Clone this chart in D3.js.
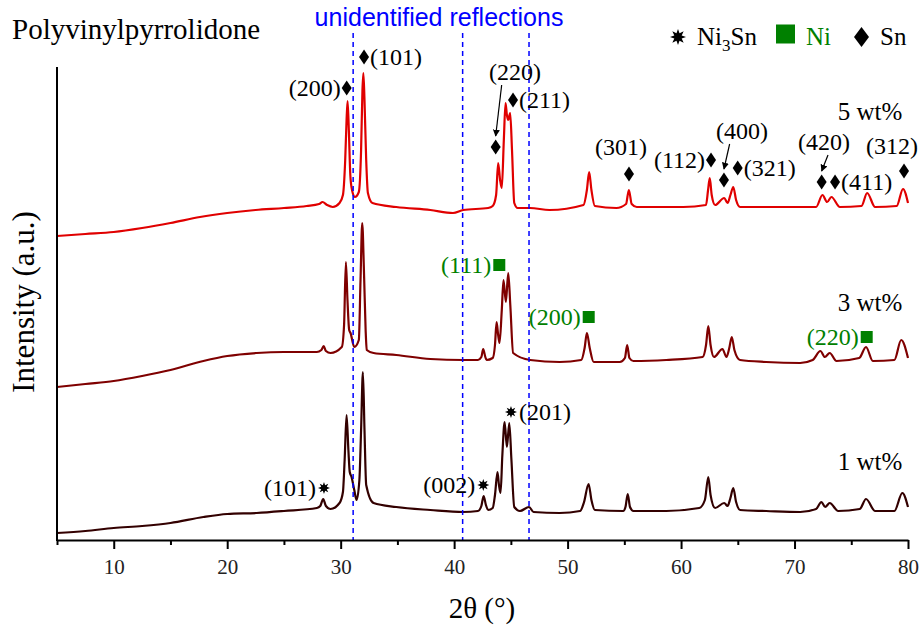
<!DOCTYPE html>
<meta charset="utf-8">
<style>
  body { margin: 0; background: #fff; }
</style>

<svg width="924" height="633" font-family="Liberation Serif, Times New Roman, serif"></svg>

<script src="https://d3js.org/d3.v7.min.js"></script>
<script>

// XRD patterns, [2theta (deg), intensity (a.u.)]
var wt5 = [
  [5, 304], [7.5, 306], [10, 308], [12.5, 312], [15, 317], [17.6, 323], [20, 327], [22.5, 330],
  [25, 332], [27, 334], [28.1, 336], [28.4, 338], [28.8, 335], [29.3, 333], [29.9, 337], [30.2, 345],
  [30.4, 380], [30.52, 420], [30.61, 439], [30.72, 410], [30.85, 365], [31.0, 350], [31.26, 343],
  [31.6, 348], [31.8, 390], [31.92, 450], [32.0, 467], [32.1, 440], [32.25, 380], [32.4, 347],
  [32.8, 337], [34.9, 333], [37.9, 330], [39.9, 327], [40.8, 330], [43.0, 332], [43.4, 334],
  [43.7, 345], [43.88, 377], [44.05, 360], [44.2, 352], [44.38, 400], [44.53, 437], [44.65, 425],
  [44.77, 420], [44.94, 427], [45.1, 390], [45.3, 337], [45.6, 332], [46.7, 332], [48.4, 330],
  [51.4, 335], [51.7, 350], [51.9, 368], [52.1, 350], [52.4, 334], [54.3, 332], [55.15, 336],
  [55.4, 350], [55.65, 336], [56.1, 333], [60.2, 333], [62.2, 335], [62.38, 350], [62.53, 362],
  [62.7, 345], [63.0, 335], [63.8, 342], [64.1, 337], [64.35, 345], [64.6, 353], [64.85, 340],
  [65.2, 333], [69.0, 333], [71.9, 333], [72.46, 345], [72.87, 338], [73.25, 343], [74.0, 333],
  [75.9, 334], [76.4, 347], [77.1, 333], [79.0, 334], [79.56, 351], [80, 337]
]

var wt3 = [
  [5, 153], [7.5, 156], [10, 159], [12.5, 164], [15, 170], [17.9, 179], [20, 184], [22.6, 187],
  [25, 188], [27.9, 188], [28.3, 190], [28.5, 194], [28.7, 189], [29.1, 187], [30.1, 193],
  [30.3, 215], [30.46, 278], [30.6, 240], [30.75, 210], [30.87, 207], [31.2, 193], [31.6, 200],
  [31.75, 260], [31.9, 317], [32.05, 270], [32.2, 210], [32.3, 190], [32.9, 187], [34.9, 185],
  [37.9, 181], [40.8, 180], [42.1, 180], [42.4, 183], [42.56, 191], [42.75, 183], [42.86, 180],
  [43.4, 182], [43.6, 195], [43.74, 218], [43.88, 205], [44.0, 197], [44.2, 230], [44.35, 260],
  [44.56, 238], [44.77, 267], [44.95, 235], [45.2, 187], [46.7, 180], [49.3, 178], [51.2, 180],
  [51.5, 192], [51.7, 207], [51.95, 192], [52.3, 178], [54.6, 178], [55.05, 182], [55.25, 195],
  [55.45, 182], [55.8, 179], [58.7, 180], [61.9, 183], [62.2, 195], [62.4, 214], [62.6, 195],
  [62.9, 183], [63.65, 191], [64.0, 183], [64.25, 192], [64.47, 203], [64.7, 190], [65.2, 180],
  [67.5, 178], [70.5, 177], [71.6, 180], [72.28, 189], [72.67, 183], [73.1, 187], [73.7, 179],
  [75.7, 182], [76.3, 193], [76.9, 179], [78.8, 180], [79.4, 200], [80, 182]
]

var wt1 = [
  [5, 7], [7.5, 9], [10, 12], [12.5, 14], [15, 17], [17.9, 23], [20, 26], [22.6, 27], [25, 29],
  [27.9, 32], [28.2, 34], [28.46, 41], [28.7, 34], [29.1, 31], [29.9, 37], [30.2, 48], [30.35, 80],
  [30.52, 125], [30.68, 90], [30.8, 68], [30.96, 63], [31.2, 50], [31.4, 40], [31.65, 60],
  [31.8, 110], [31.96, 168], [32.1, 110], [32.25, 55], [32.9, 37], [34.9, 33], [37.9, 30],
  [40.8, 28], [42.1, 29], [42.4, 34], [42.6, 44], [42.8, 35], [43.0, 30], [43.4, 32], [43.6, 45],
  [43.82, 68], [43.95, 55], [44.09, 47], [44.25, 85], [44.45, 118], [44.65, 93], [44.86, 117],
  [45.05, 80], [45.3, 33], [45.8, 29], [46.6, 33], [47.0, 28], [49.3, 27], [51.1, 29], [51.45, 38],
  [51.85, 56], [52.1, 40], [52.4, 30], [54.9, 29], [55.1, 33], [55.3, 46], [55.5, 33], [55.8, 29],
  [58.7, 29], [61.6, 32], [62.1, 40], [62.4, 63], [62.6, 45], [63.0, 32], [63.8, 37], [64.1, 34],
  [64.35, 42], [64.6, 52], [64.85, 38], [65.2, 30], [67.5, 29], [70.5, 28], [71.9, 31],
  [72.37, 38], [72.7, 33], [73.1, 37], [73.85, 29], [75.75, 31], [76.3, 41], [77.1, 29],
  [78.8, 29], [79.5, 47], [80, 33]
]

var seriesNames = ["5 wt%", "3 wt%", "1 wt%"]
var seriesLabelAt = [[79.5, 420], [79.5, 229], [79.5, 70]]   // 2theta, intensity of each name
var seriesColors = ["#e00000", "#7f0000", "#330000"]

var xTicks = [10, 20, 30, 40, 50, 60, 70, 80]
var xMinorTicks = [5, 15, 25, 35, 45, 55, 65, 75]

// 2theta of the unidentified reflections
var unidentified = [31.1, 40.75, 46.6]

// reflection labels: marker at (x, v); side = where the hkl text goes
var snLabels = [
  { hkl: "(200)", x: 30.53, v: 452, side: "left" },
  { hkl: "(101)", x: 32.06, v: 483, side: "right" },
  { hkl: "(220)", x: 43.66, v: 393, side: "above", lx: 45.36, lv: 460, ax: 44.19 },
  { hkl: "(211)", x: 45.19, v: 440, side: "right" },
  { hkl: "(301)", x: 55.41, v: 366, side: "above", lx: 54.7, lv: 385 },
  { hkl: "(112)", x: 62.64, v: 380, side: "left" },
  { hkl: "(400)", x: 63.78, v: 360, side: "above", lx: 65.37, lv: 401, ax: 64.28 },
  { hkl: "(321)", x: 64.99, v: 372, side: "right" },
  { hkl: "(420)", x: 72.39, v: 358, side: "above", lx: 72.6, lv: 390, ax: 72.95 },
  { hkl: "(411)", x: 73.57, v: 358, side: "right" },
  { hkl: "(312)", x: 79.65, v: 369, side: "above", lx: 78.6, lv: 386 }
]

var niLabels = [
  { hkl: "(111)", x: 43.98, v: 275, side: "left" },
  { hkl: "(200)", x: 51.86, v: 223, side: "left" },
  { hkl: "(220)", x: 76.36, v: 203, side: "left" }
]

var ni3snLabels = [
  { hkl: "(101)", x: 28.53, v: 52, side: "left" },
  { hkl: "(002)", x: 42.57, v: 55, side: "left" },
  { hkl: "(201)", x: 45.01, v: 128, side: "right" }
]

var svg = d3.select("svg")

var x = d3.scaleLinear().domain([5, 80]).range([57, 908])
var y = d3.scaleLinear().domain([0, 473]).range([540, 67])

var GREEN = "#008000"

// marker shapes
function diamondPath(cx, cy, w, h) {
  return "M" + cx + "," + (cy - h) + "L" + (cx + w) + "," + cy +
         "L" + cx + "," + (cy + h) + "L" + (cx - w) + "," + cy + "Z"
}

function starPath(cx, cy, r) {
  var p = d3.path()
  for (var k = 0; k < 16; k++) {
    var a = k * Math.PI / 8 - Math.PI / 2
    var rr = k % 2 ? r * 0.5 : r
    var px = cx + rr * Math.cos(a), py = cy + rr * Math.sin(a)
    if (k === 0) p.moveTo(px, py); else p.lineTo(px, py)
  }
  p.closePath()
  return p.toString()
}

function drawMarker(kind, cx, cy, big) {
  if (kind === "sn") {
    svg.append("path").attr("d", big ? diamondPath(cx, cy, 7.5, 10) : diamondPath(cx, cy, 5, 7.5))
      .attr("fill", "#000")
  } else if (kind === "ni") {
    var s = big ? 19 : 12
    svg.append("rect").attr("x", cx - s / 2).attr("y", cy - s / 2)
      .attr("width", s).attr("height", s).attr("fill", GREEN)
  } else {
    svg.append("path").attr("d", starPath(cx, cy, big ? 8 : 6)).attr("fill", "#000")
  }
}

// the three patterns
var line = d3.line()
    .x(function (d) { return x(d[0]) })
    .y(function (d) { return y(d[1]) })
    .curve(d3.curveMonotoneX)

svg.append("g").selectAll("path")
  .data([wt5, wt3, wt1])
  .enter().append("path")
    .attr("d", line)
    .attr("fill", "none")
    .attr("stroke", function (d, i) { return seriesColors[i] })
    .attr("stroke-width", 2.2)
    .attr("stroke-linejoin", "round")

// dashed markers for the unidentified reflections
svg.append("g").selectAll("line")
  .data(unidentified)
  .enter().append("line")
    .attr("x1", function (d) { return x(d) })
    .attr("x2", function (d) { return x(d) })
    .attr("y1", 33)
    .attr("y2", 540)
    .attr("stroke", "#0000ff")
    .attr("stroke-width", 1.5)
    .attr("stroke-dasharray", "5,4")

// axes
var gx = svg.append("g")
    .attr("transform", "translate(0,540)")
    .call(d3.axisBottom(x).tickValues(xTicks).tickSize(9).tickSizeOuter(0).tickPadding(10))
gx.attr("font-family", null).attr("font-size", 21)
gx.select(".domain").attr("stroke-width", 2)
gx.selectAll(".tick line").attr("stroke-width", 2)
gx.selectAll(".tick text").attr("fill", "#222")

var gxMinor = svg.append("g")
    .attr("transform", "translate(0,540)")
    .call(d3.axisBottom(x).tickValues(xMinorTicks).tickSize(5).tickSizeOuter(0).tickFormat(""))
gxMinor.select(".domain").remove()
gxMinor.selectAll(".tick line").attr("stroke-width", 2)

svg.append("line")
    .attr("x1", 57).attr("x2", 57)
    .attr("y1", y.range()[1]).attr("y2", 541)
    .attr("stroke", "#000").attr("stroke-width", 2)

svg.append("text")
    .attr("x", 482).attr("y", 618)
    .attr("text-anchor", "middle")
    .attr("font-size", 29)
    .text("2θ (°)")

svg.append("text")
    .attr("transform", "translate(34,302) rotate(-90)")
    .attr("text-anchor", "middle")
    .attr("font-size", 31)
    .text("Intensity (a.u.)")

// titles
svg.append("text")
    .attr("x", 12).attr("y", 39)
    .attr("font-size", 29)
    .text("Polyvinylpyrrolidone")

svg.append("text")
    .attr("x", 439).attr("y", 26)
    .attr("text-anchor", "middle")
    .attr("font-family", "Liberation Sans, Arial, sans-serif")
    .attr("font-size", 25)
    .attr("fill", "#0000ff")
    .text("unidentified reflections")

// sample names
seriesNames.forEach(function (name, i) {
  svg.append("text")
      .attr("x", x(seriesLabelAt[i][0])).attr("y", y(seriesLabelAt[i][1]))
      .attr("text-anchor", "end")
      .attr("font-size", 25)
      .text(name)
})

// arrow head
svg.append("defs").append("marker")
    .attr("id", "head")
    .attr("viewBox", "0 0 10 10")
    .attr("refX", 9).attr("refY", 5)
    .attr("markerWidth", 7).attr("markerHeight", 7)
    .attr("markerUnits", "userSpaceOnUse")
    .attr("orient", "auto")
  .append("path")
    .attr("d", "M0,0L10,5L0,10Z")
    .attr("fill", "#000")

function addLabels(list, kind, color) {
  var gap = kind === "sn" ? 6 : 8
  list.forEach(function (d) {
    var mx = x(d.x), my = y(d.v)
    drawMarker(kind, mx, my, false)
    var t = svg.append("text").attr("fill", color).attr("font-size", 24).text(d.hkl)
    if (d.side === "left") {
      t.attr("x", mx - gap).attr("y", my).attr("dy", "0.35em").attr("text-anchor", "end")
    } else if (d.side === "right") {
      t.attr("x", mx + gap).attr("y", my).attr("dy", "0.35em")
    } else {
      t.attr("x", x(d.lx)).attr("y", y(d.lv)).attr("text-anchor", "middle")
      if (d.ax) {
        svg.append("line")
            .attr("x1", x(d.ax)).attr("y1", y(d.lv) + 5)
            .attr("x2", mx).attr("y2", my - 11)
            .attr("stroke", "#000").attr("stroke-width", 1.2)
            .attr("marker-end", "url(#head)")
      }
    }
  })
}

addLabels(snLabels, "sn", "#000")
addLabels(niLabels, "ni", GREEN)
addLabels(ni3snLabels, "ni3sn", "#000")

// legend
drawMarker("ni3sn", 678, 37, true)
var leg = svg.append("text").attr("x", 697).attr("y", 45).attr("font-size", 25)
leg.append("tspan").text("Ni")
leg.append("tspan").attr("font-size", 17).attr("dy", 6).text("3")
leg.append("tspan").attr("dy", -6).text("Sn")
drawMarker("ni", 785.5, 34, true)
svg.append("text").attr("x", 806).attr("y", 45).attr("font-size", 25).attr("fill", GREEN).text("Ni")
drawMarker("sn", 861.5, 37, true)
svg.append("text").attr("x", 880).attr("y", 45).attr("font-size", 25).text("Sn")

</script>
